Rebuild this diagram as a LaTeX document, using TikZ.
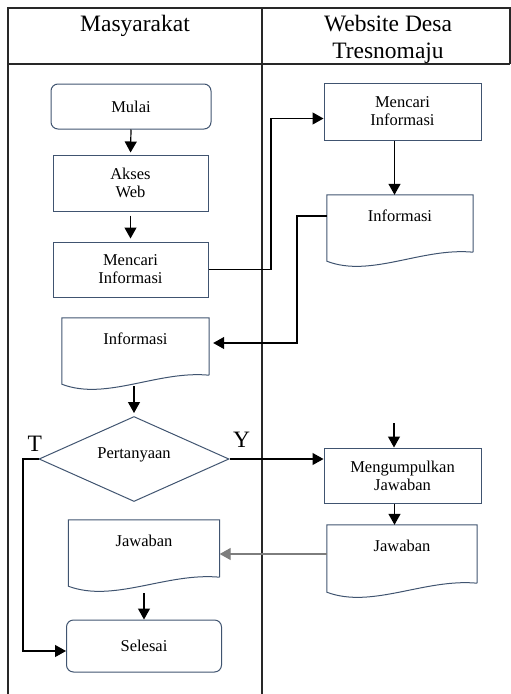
\documentclass[tikz,border=0pt]{standalone}
\usepackage{fontspec}
\setmainfont{Liberation Serif}
\usetikzlibrary{shapes.geometric,arrows.meta,calc}
\definecolor{boxline}{RGB}{64,84,112}
\definecolor{laneline}{RGB}{40,40,40}
\definecolor{greyflow}{RGB}{125,125,125}

\begin{document}
\begin{tikzpicture}[x=1pt,y=-1pt,
  >={Triangle[length=11pt,width=12pt]},
  every node/.style={font=\fontsize{16.5}{18}\selectfont,inner sep=0pt},
  box/.style={draw=boxline,line width=1pt,rectangle,align=center},
  terminal/.style={box,rounded corners=7pt},
  docbox/.style={rectangle,text depth=16pt},
  decision/.style={draw=boxline,line width=1pt,diamond,shape aspect=2.2,
    minimum width=190pt,minimum height=85pt,text depth=12pt},
  flow/.style={->,line width=1.2pt},
  lane/.style={laneline,line width=1.4pt},
  head/.style={font=\fontsize{23.5}{27}\selectfont,align=center}]

\useasboundingbox (0,0) rectangle (511,694);

% lanes
\draw[lane] (8,694) -- (8,8) -- (510,8) -- (510,64);
\draw[lane] (8,64) -- (510,64);
\draw[lane] (262,8) -- (262,694);

\node[head] (headM) at (135,26) {Masyarakat};
\node[head] (headW) at (388,39.5) {Website Desa\\Tresnomaju};

% masyarakat
\node[terminal,minimum width=160pt,minimum height=45pt] (mulai) at (131,106.5) {Mulai};
\node[box,minimum width=155pt,minimum height=56pt] (akses) at (130.5,183) {Akses\\Web};
\node[box,minimum width=155pt,minimum height=55pt] (cariM) at (130.5,269.5) {Mencari\\Informasi};
\node[docbox,minimum width=147pt,minimum height=57pt] (infoM) at (135.5,346.5) {Informasi};
\node[decision] (dec) at (134,459) {Pertanyaan};
\node[docbox,minimum width=151pt,minimum height=57pt] (jawM) at (144,548.5) {Jawaban};
\node[terminal,minimum width=155pt,minimum height=52pt] (selesai) at (144,646) {Selesai};

% website
\node[box,minimum width=157pt,minimum height=57pt] (cariW) at (402.5,111.5) {Mencari\\Informasi};
\node[docbox,minimum width=146pt,minimum height=57pt] (infoW) at (400,223.5) {Informasi};
\node[box,minimum width=157pt,minimum height=55pt] (kumpul) at (402.5,475.5) {Mengumpulkan\\Jawaban};
\node[docbox,minimum width=150pt,minimum height=58pt] (jawW) at (402,554) {Jawaban};

% document outlines
\foreach \d in {infoM,jawM,infoW,jawW}
  \draw[boxline,line width=1pt] (\d.south east) -- (\d.north east) -- (\d.north west)
    -- ($(\d.south west)+(0,9)$)
    .. controls ($(\d.south west)!0.3!(\d.south east)+(0,26)$)
    and ($(\d.south west)!0.65!(\d.south east)+(0,-5)$) .. (\d.south east);

\coordinate (laneA) at (271,0);
\coordinate (laneB) at (297,343);
\coordinate (laneT) at (23,0);
\coordinate (kumpulIn) at (394,423);

\draw[flow,shorten >=2pt] (mulai.south) -- (akses.north);
\draw[flow,shorten <=4pt,shorten >=3pt] (akses.south) -- (cariM.north);
\draw[flow] (cariM.east) -- (cariM.east -| laneA) |- ($(cariW.west)+(0,7)$);
\draw[flow] ([xshift=-8pt]cariW.south) -- ([xshift=-8pt]cariW.south |- infoW.north);
\draw[flow,shorten >=4pt] ($(infoW.west)+(0,-7.5)$) -| (laneB) -- (laneB -| infoM.east);
\draw[flow,shorten >=3pt] ($(dec.north |- infoM.south)+(0,11)$) -- (dec.north);
\draw[flow] (dec.east) node[head,anchor=south west,xshift=3pt,yshift=11pt] (labelY) {Y}
  -- (dec.east -| kumpul.west);
\draw[flow] (dec.west) node[head,anchor=south east,xshift=4pt,yshift=7pt] (labelT) {T}
  -- (dec.west -| laneT) |- ($(selesai.west)+(0,5)$);
\draw[flow] (kumpulIn) -- (kumpulIn |- kumpul.north);
\draw[flow] ([xshift=-8pt]kumpul.south) -- ([xshift=-8pt]kumpul.south |- jawW.north);
\draw[flow,greyflow] (jawW.west) -- (jawW.west -| jawM.east);
\draw[flow] ($(jawM.south)+(0,16)$) -- (selesai.north);

\end{tikzpicture}
\end{document}
